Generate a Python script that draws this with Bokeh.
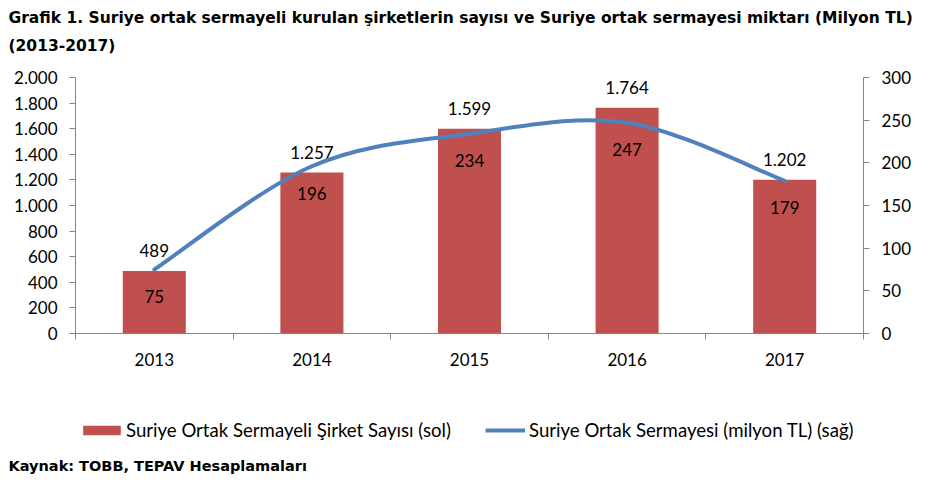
from bokeh.plotting import figure
from bokeh.layouts import column
from bokeh.models import (Range1d, LinearAxis, FixedTicker, Legend, LegendItem,
                          ColumnDataSource, Label)
from bokeh.core.properties import value
from bokeh.embed import file_html
from bokeh.resources import INLINE

years = ["2013", "2014", "2015", "2016", "2017"]
sirket_sayisi = [489, 1257, 1599, 1764, 1202]
sermaye = [75, 196, 234, 247, 179]
left_ticks = [0, 200, 400, 600, 800, 1000, 1200, 1400, 1600, 1800, 2000]
right_ticks = [0, 50, 100, 150, 200, 250, 300]

BAR = "#C0504D"
LINE = "#4F81BD"
AXIS = "#868686"
FONT = "Lato"
HEAD_FONT = "DejaVu Sans"


def tr_num(v):
    return f"{v:,}".replace(",", ".")


def text_strip(height):
    # a bare figure used only to hold texts / legend above or below the chart
    f = figure(width=935, height=height, output_backend="svg", toolbar_location=None,
               x_range=Range1d(0, 1), y_range=Range1d(0, 1), x_axis_type=None, y_axis_type=None,
               min_border_left=0, min_border_right=0, min_border_top=0, min_border_bottom=0)
    f.frame_align = False
    f.xgrid.visible = False
    f.ygrid.visible = False
    f.outline_line_color = None
    return f


xs = list(range(len(years)))

# title strip
title1 = "Grafik 1. Suriye ortak sermayeli kurulan şirketlerin sayısı ve Suriye ortak sermayesi miktarı (Milyon TL)"
title2 = "(2013-2017)"
f0 = text_strip(60)
for txt, y in ((title1, 43), (title2, 15)):
    f0.add_layout(Label(x=8, y=y, x_units="screen", y_units="screen", text=txt,
                        text_font=HEAD_FONT, text_font_style="bold", text_font_size="15.5px",
                        text_baseline="middle", text_color="black"))

p = figure(width=935, height=313, output_backend="svg", toolbar_location=None,
           x_range=Range1d(-0.5, len(years) - 0.5), y_range=Range1d(0, 2000),
           min_border_left=75, min_border_right=72, min_border_top=17, min_border_bottom=40)
p.frame_align = False
p.extra_y_ranges = {"right": Range1d(0, 300)}
p.xgrid.visible = False
p.ygrid.visible = False
p.outline_line_color = None

# bars (left axis)
src = ColumnDataSource(dict(x=xs, top=sirket_sayisi, lbl=[tr_num(v) for v in sirket_sayisi]))
p.vbar(x="x", top="top", width=0.4, source=src, fill_color=BAR, line_color=None)
p.text(x="x", y="top", text="lbl", source=src, text_align="center", text_baseline="bottom",
       y_offset=-14, text_font=value(FONT), text_font_size="17px", text_color="black")

# smoothed line (right axis), Excel-style bezier segments through the points
pts = list(zip(xs, sermaye))
seg = dict(x0=[], y0=[], x1=[], y1=[], cx0=[], cy0=[], cx1=[], cy1=[])
for i in range(len(pts) - 1):
    pm = pts[max(i - 1, 0)]
    p0 = pts[i]
    p1 = pts[i + 1]
    p2 = pts[min(i + 2, len(pts) - 1)]
    seg["x0"].append(p0[0]); seg["y0"].append(p0[1])
    seg["x1"].append(p1[0]); seg["y1"].append(p1[1])
    seg["cx0"].append(p0[0] + (p1[0] - pm[0]) / 6); seg["cy0"].append(p0[1] + (p1[1] - pm[1]) / 6)
    seg["cx1"].append(p1[0] - (p2[0] - p0[0]) / 6); seg["cy1"].append(p1[1] - (p2[1] - p0[1]) / 6)
p.bezier(x0="x0", y0="y0", x1="x1", y1="y1", cx0="cx0", cy0="cy0", cx1="cx1", cy1="cy1",
         source=ColumnDataSource(seg), line_color=LINE, line_width=4, line_cap="round",
         y_range_name="right")

lsrc = ColumnDataSource(dict(x=xs, y=sermaye, lbl=[str(v) for v in sermaye]))
p.text(x="x", y="y", text="lbl", source=lsrc, y_range_name="right", text_align="center",
       text_baseline="middle", y_offset=27, text_font=value(FONT), text_font_size="17px",
       text_color="black")

# axes
def style_axis(ax):
    ax.axis_line_color = AXIS
    ax.major_tick_line_color = AXIS
    ax.minor_tick_line_color = AXIS
    ax.major_label_text_font = FONT
    ax.major_label_text_font_size = "17px"
    ax.major_label_text_color = "black"

xa = p.xaxis[0]
xa.ticker = FixedTicker(ticks=xs, minor_ticks=[x - 0.5 for x in xs] + [xs[-1] + 0.5])
xa.major_label_overrides = {i: y for i, y in enumerate(years)}
xa.major_tick_out = 0
xa.major_tick_in = 0
xa.minor_tick_out = 6
xa.minor_tick_in = 0
xa.major_label_standoff = 13
style_axis(xa)

ya = p.yaxis[0]
ya.ticker = FixedTicker(ticks=left_ticks)
ya.major_label_overrides = {t: tr_num(t) for t in left_ticks}
ya.major_tick_out = 6
ya.major_tick_in = 0
ya.minor_tick_line_color = None
ya.major_label_standoff = 12
style_axis(ya)

ra = LinearAxis(y_range_name="right", ticker=FixedTicker(ticks=right_ticks))
ra.major_tick_out = 6
ra.major_tick_in = 0
ra.minor_tick_line_color = None
ra.major_label_standoff = 12
style_axis(ra)
p.add_layout(ra, "right")

# legend strip and source note underneath
f2 = text_strip(131)
# legend keys only: one undefined point each, nothing is drawn in the strip itself
nan = float("nan")
bar_key = f2.vbar(x=[nan], top=[nan], width=0.4, fill_color=BAR, line_color=None)
line_key = f2.line(x=[nan], y=[nan], line_color=LINE, line_width=4)

leg1 = Legend(items=[LegendItem(label="Suriye Ortak Sermayeli Şirket Sayısı (sol)", renderers=[bar_key])],
              location=(78, 63), glyph_width=47, glyph_height=12, label_standoff=1)
leg2 = Legend(items=[LegendItem(label="Suriye Ortak Sermayesi (milyon TL) (sağ)", renderers=[line_key])],
              location=(485, 63), glyph_width=40, glyph_height=12, label_standoff=4)
for lg in (leg1, leg2):
    lg.padding = 0
    lg.margin = 0
    lg.border_line_color = None
    lg.background_fill_alpha = 0
    lg.label_text_font = FONT
    lg.label_text_font_size = "18.6px"
    lg.label_text_color = "black"
    f2.add_layout(lg)

source_txt = "Kaynak: TOBB, TEPAV Hesaplamaları"
f2.add_layout(Label(x=8, y=39, x_units="screen", y_units="screen", text=source_txt,
                    text_font=HEAD_FONT, text_font_style="bold", text_font_size="14.5px",
                    text_baseline="middle", text_color="black"))

page = column(f0, p, f2)
open("out.html", "w").write(file_html(page, INLINE))
